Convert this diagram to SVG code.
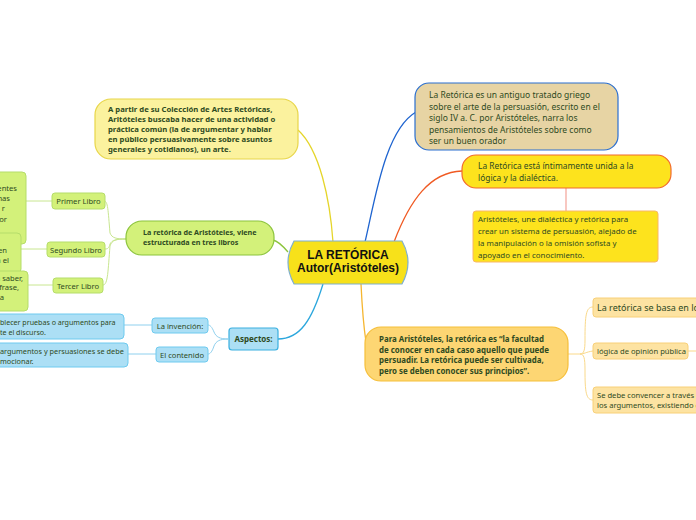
<svg xmlns="http://www.w3.org/2000/svg" width="696" height="520" viewBox="0 0 696 520">
<style>
.t{font-family:"Noto Sans","Open Sans","DejaVu Sans",sans-serif;fill:#2e4a22}
.b{font-weight:bold}
.c{fill:none;stroke-width:1.3}
</style>
<rect width="696" height="520" fill="#ffffff"/>
<g id="connectors">
  <path class="c" d="M333 242 C330 200 320 150 298 130" stroke="#e5d52a"/>
  <path class="c" d="M365 242 C375 200 385 130 416 112" stroke="#1e64d0"/>
  <path class="c" d="M394 242 C410 200 430 172 462 171" stroke="#f05a23"/>
  <path class="c" d="M566 188 L566 211" stroke="#f5aaa0"/>
  <path class="c" d="M288 252 C282 245 278 241 273 240" stroke="#8cc43c"/>
  <path fill="none" stroke="#c8e690" stroke-width="1" d="M126 239 C116 239 112 238 110 233 C108 210 108 201 104 201 M126 239 C116 239 112 240 110 244 C109 248 108 249 105 249 M126 239 C116 239 112 240 110 246 C108 270 108 285 103 285 M52 201 L26 201 M47 249 L21 249 M53 285 L28 285"/>
  <path class="c" d="M323 284 C312 320 300 339 278 339" stroke="#2ca7dd"/>
  <path fill="none" stroke="#8fd0ee" stroke-width="1" d="M228 339 C220 339 216 337 214 332 C212 327 210 325 208 325 M228 339 C220 339 216 341 214 346 C212 352 210 354 208 354 M152 325 L124 325 M156 354 L128 354"/>
  <path class="c" d="M361 284 C362 305 363 322 366 342" stroke="#f5b630"/>
  <path fill="none" stroke="#fad98a" stroke-width="1" d="M568 354 L580 354 C584 354 585 350 585 340 C585 315 586 307 593 307 M580 354 C584 354 586 352 593 351 M580 354 C584 354 585 358 585 370 C585 392 586 400 593 400 M688 351 L696 351"/>
</g>
<g id="central">
  <path d="M294 241 L402 241 Q414 262 402 284 L294 284 Q282 262 294 241 Z" fill="#f7e11a" stroke="#7fb0d0" stroke-width="1.2"/>
  <text x="348" y="259" text-anchor="middle" font-family="Liberation Sans, Arial, sans-serif" font-size="12" font-weight="bold" fill="#111">LA RETÓRICA</text>
  <text x="348" y="272" text-anchor="middle" font-family="Liberation Sans, Arial, sans-serif" font-size="12" font-weight="bold" fill="#111">Autor(Aristóteles)</text>
</g>
<g id="n-partir">
  <rect x="95" y="99" width="203" height="60" rx="16" fill="#fbf29e" stroke="#e8d64a" stroke-width="1.2"/>
  <text class="t b" style="font-size:7.7px"><tspan x="108" y="112">A partir de su Colección de Artes Retóricas,</tspan><tspan x="108" y="122">Aritóteles buscaba hacer de una actividad o</tspan><tspan x="108" y="132">práctica común (la de argumentar y hablar</tspan><tspan x="108" y="142">en público persuasivamente sobre asuntos</tspan><tspan x="108" y="152">generales y cotidianos), un arte.</tspan></text>
</g>
<g id="n-tratado">
  <rect x="415" y="83" width="203" height="67" rx="14" fill="#e7d4a4" stroke="#2b6fd0" stroke-width="1.2"/>
  <text class="t" style="font-size:8.5px"><tspan x="429" y="98">La Retórica es un antiguo tratado griego</tspan><tspan x="429" y="109.5">sobre el arte de la persuasión, escrito en el</tspan><tspan x="429" y="121">siglo IV a. C. por Aristóteles,  narra los</tspan><tspan x="429" y="132.5">pensamientos de Aristóteles sobre como</tspan><tspan x="429" y="144">ser un buen orador</tspan></text>
</g>
<g id="n-logica">
  <rect x="462" y="155" width="209" height="33" rx="14" fill="#fde31d" stroke="#f26a2e" stroke-width="1.2"/>
  <text class="t" style="font-size:8.4px"><tspan x="478" y="169">La Retórica está íntimamente unida a la</tspan><tspan x="478" y="181">lógica y la dialéctica.</tspan></text>
</g>
<g id="n-dialectica">
  <rect x="473" y="211" width="185" height="51" rx="3" fill="#fde31d" stroke="#f8b768" stroke-width="1"/>
  <text class="t" style="font-size:7.9px"><tspan x="478" y="222">Aristóteles, une dialéctica y retórica para</tspan><tspan x="478" y="234">crear un sistema de persuasión, alejado de</tspan><tspan x="478" y="246">la manipulación o la omisión sofista y</tspan><tspan x="478" y="258">apoyado en el conocimiento.</tspan></text>
</g>
<g id="n-libros">
  <rect x="126" y="221" width="148" height="34" rx="16" fill="#d3f17a" stroke="#8cc43c" stroke-width="1.2"/>
  <text class="t b" style="font-size:7.2px"><tspan x="143" y="235">La retórica de Aristóteles, viene</tspan><tspan x="143" y="245">estructurada en tres libros</tspan></text>
</g>
<g id="n-primer">
  <rect x="52" y="193" width="53" height="16" rx="3" fill="#d3f17a" stroke="#b5dd6a"/>
  <text class="t" style="font-size:7.6px" x="78.5" y="204" text-anchor="middle">Primer Libro</text>
</g>
<g id="n-segundo">
  <rect x="47" y="242" width="58" height="15" rx="3" fill="#d3f17a" stroke="#b5dd6a"/>
  <text class="t" style="font-size:7.6px" x="76" y="252.5" text-anchor="middle">Segundo Libro</text>
</g>
<g id="n-tercer">
  <rect x="53" y="278" width="50" height="15" rx="3" fill="#d3f17a" stroke="#b5dd6a"/>
  <text class="t" style="font-size:7.6px" x="78" y="288.5" text-anchor="middle">Tercer Libro</text>
</g>
<g id="n-primer-txt">
  <rect x="-10" y="172" width="36" height="72" rx="4" fill="#d3f17a" stroke="#b5dd6a"/>
  <text class="t" style="font-size:7.6px" text-anchor="end"><tspan x="17" y="191">entes</tspan><tspan x="10" y="201">nas</tspan><tspan x="5" y="211">r</tspan><tspan x="7" y="222">or</tspan></text>
</g>
<g id="n-segundo-txt">
  <rect x="-10" y="233" width="31" height="40" rx="4" fill="#d3f17a" stroke="#b5dd6a"/>
  <text class="t" style="font-size:7.6px" text-anchor="end"><tspan x="7" y="253">en</tspan><tspan x="9" y="263">n el</tspan></text>
</g>
<g id="n-tercer-txt">
  <rect x="-10" y="271" width="38" height="40" rx="4" fill="#d3f17a" stroke="#b5dd6a"/>
  <text class="t" style="font-size:7.6px" text-anchor="end"><tspan x="23" y="281">a saber,</tspan><tspan x="19" y="290">frase,</tspan><tspan x="4" y="300">a</tspan></text>
</g>
<g id="n-aspectos">
  <rect x="229" y="328" width="49" height="22" rx="3" fill="#acdff5" stroke="#3bb0e0" stroke-width="1.2"/>
  <text class="t b" style="font-size:8px" x="253.5" y="342" text-anchor="middle">Aspectos:</text>
</g>
<g id="n-invencion">
  <rect x="152" y="318" width="56" height="15" rx="3" fill="#acdff5" stroke="#6ecaef"/>
  <text class="t" style="font-size:7.6px" x="180" y="328.5" text-anchor="middle">La invención:</text>
</g>
<g id="n-contenido">
  <rect x="156" y="347" width="52" height="15" rx="3" fill="#acdff5" stroke="#6ecaef"/>
  <text class="t" style="font-size:7.6px" x="182" y="357.5" text-anchor="middle">El contenido</text>
</g>
<g id="n-invencion-txt">
  <rect x="-10" y="314" width="134" height="25" rx="4" fill="#acdff5" stroke="#6ecaef"/>
  <text class="t" style="font-size:7.1px"><tspan x="0" y="325">blecer pruebas o argumentos para</tspan><tspan x="0" y="335">te el discurso.</tspan></text>
</g>
<g id="n-contenido-txt">
  <rect x="-10" y="343" width="138" height="24" rx="4" fill="#acdff5" stroke="#6ecaef"/>
  <text class="t" style="font-size:7.3px"><tspan x="0" y="354">argumentos y persuasiones se debe</tspan><tspan x="0" y="364">mocionar.</tspan></text>
</g>
<g id="n-facultad">
  <rect x="365" y="327" width="203" height="54" rx="16" fill="#fdd673" stroke="#f6bf3a" stroke-width="1.2"/>
  <text class="t b" style="font-size:7.9px"><tspan x="379" y="342">Para Aristóteles, la retórica es “la facultad</tspan><tspan x="379" y="352.5">de conocer en cada caso aquello que puede</tspan><tspan x="379" y="363">persuadir. La retórica puede ser cultivada,</tspan><tspan x="379" y="373.5">pero se deben conocer sus principios”.</tspan></text>
</g>
<g id="n-basa">
  <rect x="593" y="298" width="110" height="19" rx="3" fill="#fde3a2" stroke="#f8d079"/>
  <text class="t" style="font-size:9px" x="597" y="311">La retórica se basa en lo</text>
</g>
<g id="n-opinion">
  <rect x="593" y="343" width="95" height="16" rx="3" fill="#fde3a2" stroke="#f8d079"/>
  <text class="t" style="font-size:7.6px" x="597" y="354">lógica de opinión pública</text>
</g>
<g id="n-convencer">
  <rect x="593" y="387" width="110" height="26" rx="3" fill="#fde3a2" stroke="#f8d079"/>
  <text class="t" style="font-size:7.6px"><tspan x="597" y="398">Se debe convencer a través de</tspan><tspan x="597" y="408">los argumentos, existiendo c</tspan></text>
</g>
</svg>
